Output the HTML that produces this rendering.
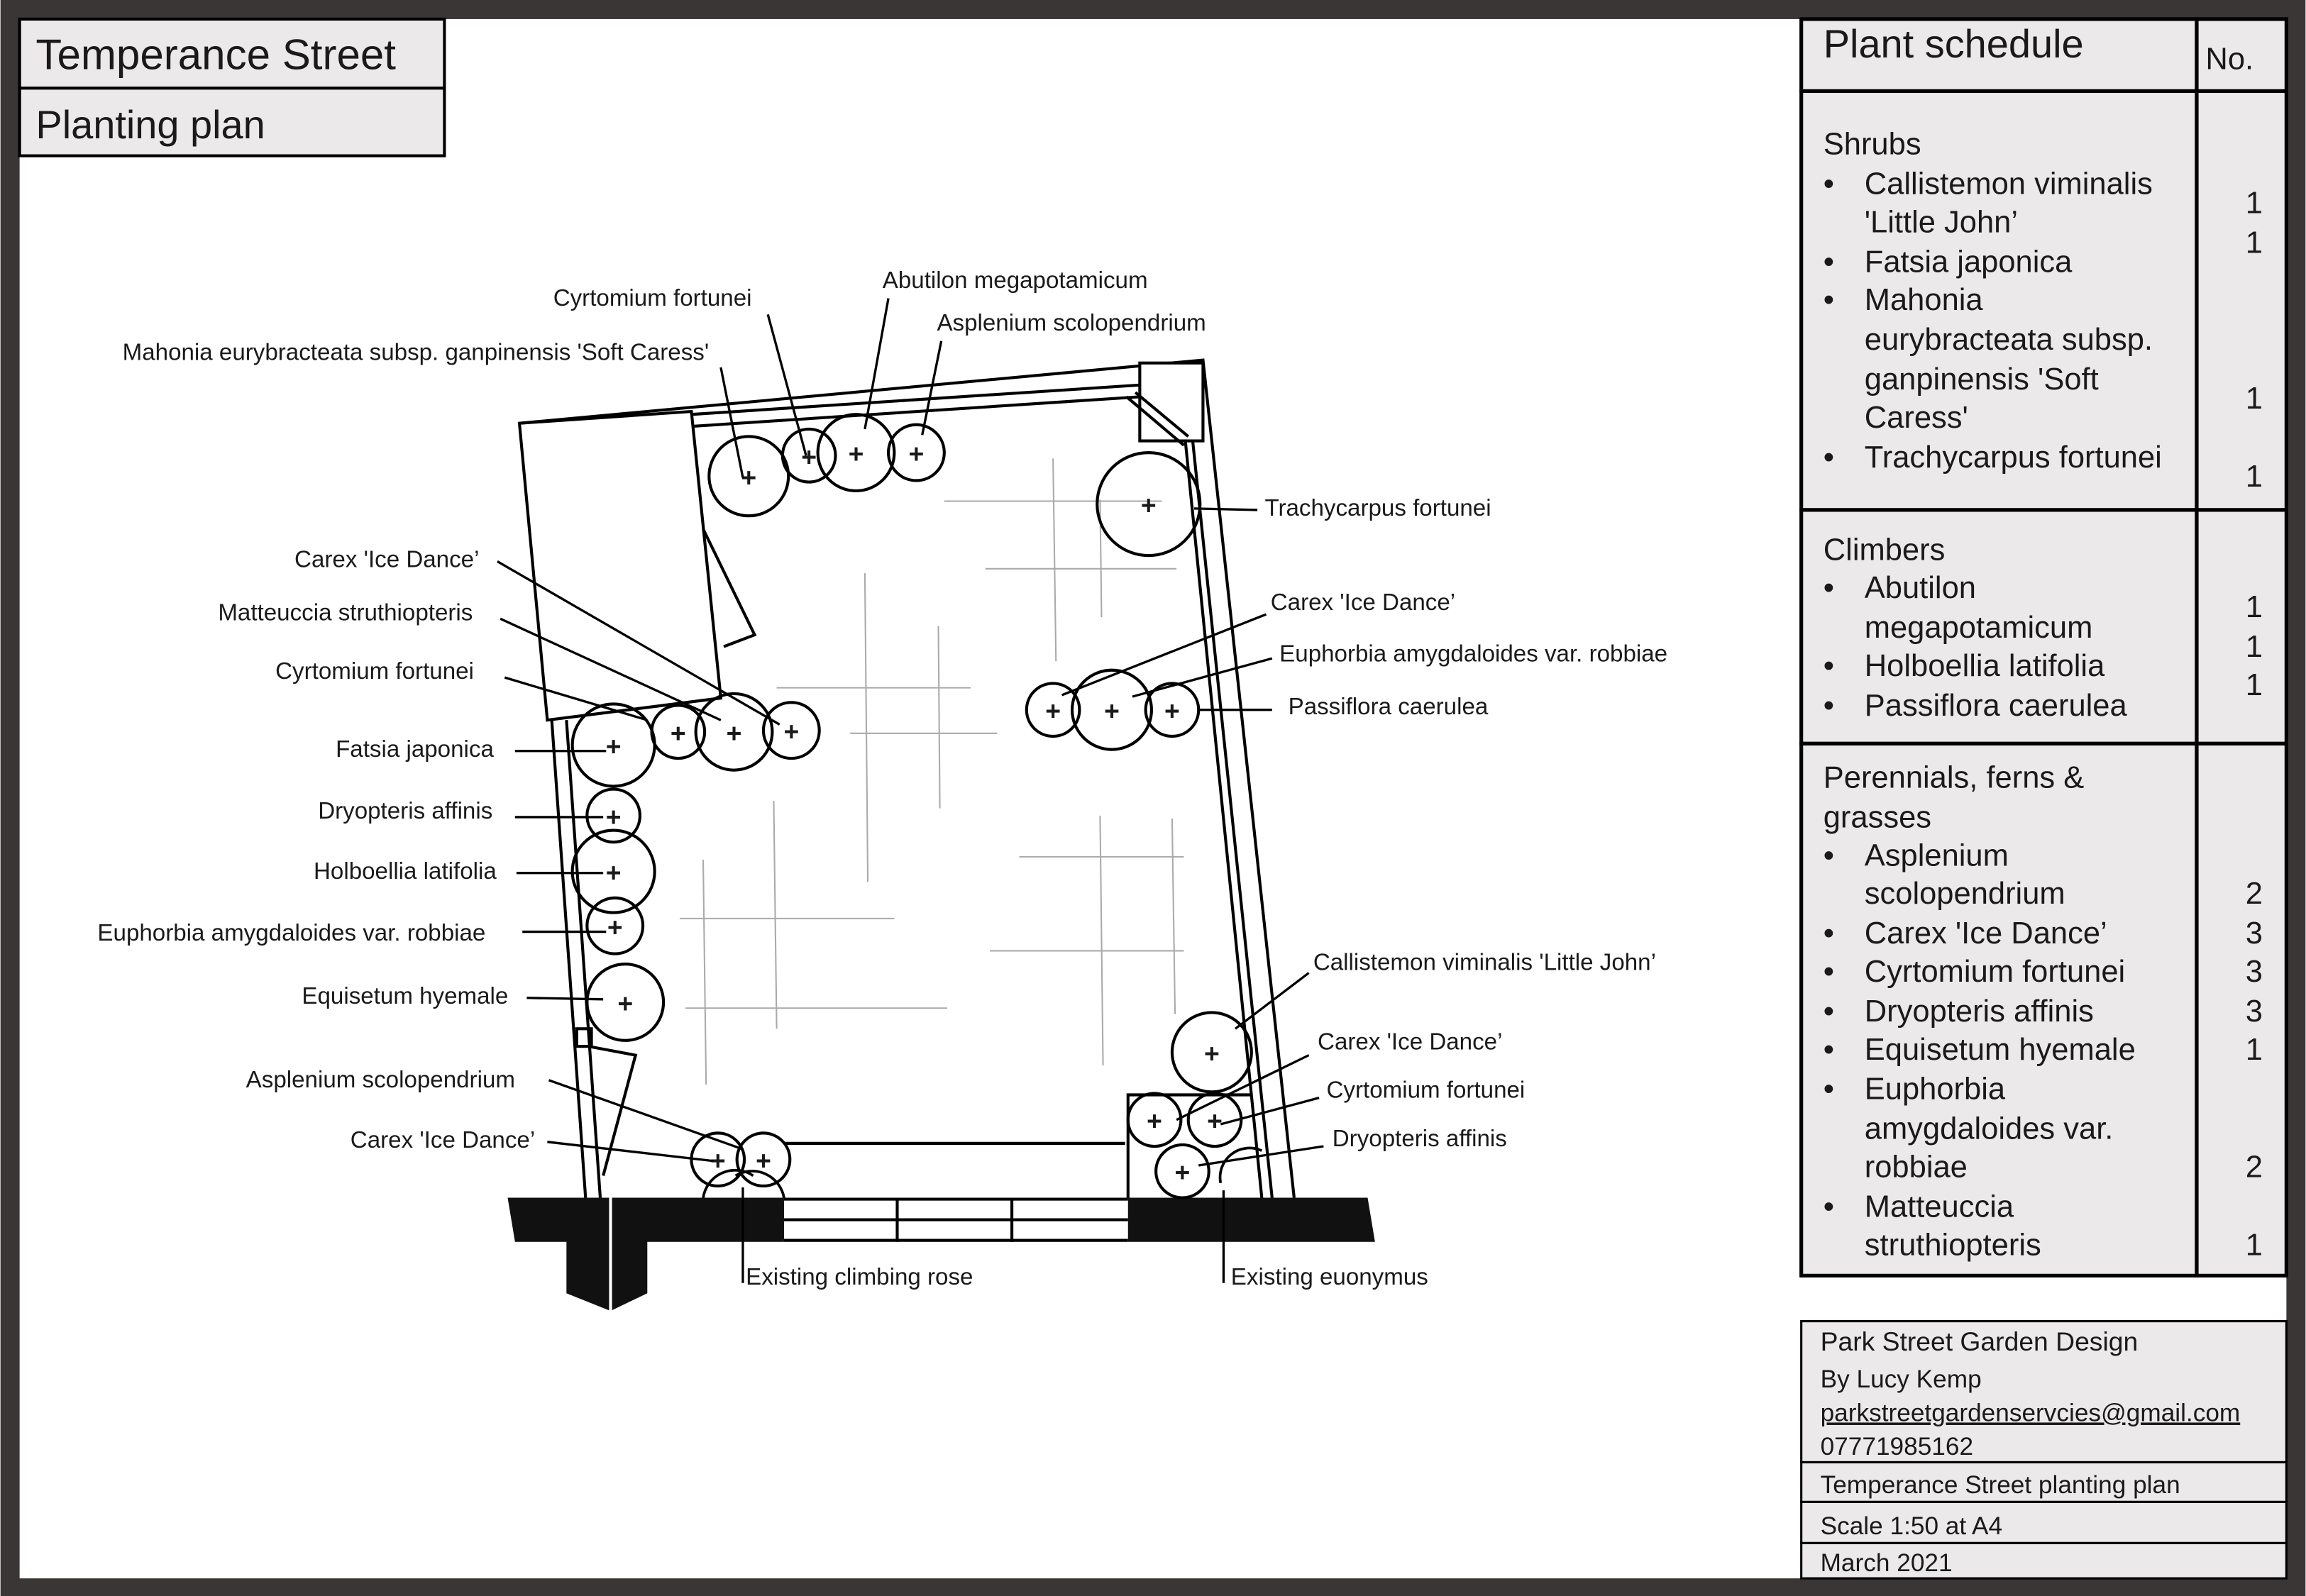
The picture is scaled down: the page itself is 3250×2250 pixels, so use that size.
<!DOCTYPE html>
<html><head><meta charset="utf-8"><style>
html,body{margin:0;padding:0;background:#fff}
svg{display:block}
text{font-family:"Liberation Sans",sans-serif;fill:#1a1a1a}
</style></head><body>
<svg width="3250" height="2250" viewBox="0 0 1568 1086" xmlns="http://www.w3.org/2000/svg">
<rect x="0" y="0" width="1568" height="1086" fill="#3a3636"/>
<rect x="13" y="13" width="1542" height="1061" fill="#fff"/>
<!-- title -->
<rect x="13" y="13" width="289" height="47" fill="#ece9ea" stroke="#000" stroke-width="2"/>
<rect x="13" y="60" width="289" height="46" fill="#ece9ea" stroke="#000" stroke-width="2"/>
<text x="24" y="47" font-size="29">Temperance Street</text>
<text x="24" y="94" font-size="27">Planting plan</text>
<!-- schedule -->
<g stroke="#000" stroke-width="2.5" fill="#ece9ea">
<rect x="1225" y="13" width="269" height="49"/><rect x="1494" y="13" width="61" height="49"/>
<rect x="1225" y="62" width="269" height="285"/><rect x="1494" y="62" width="61" height="285"/>
<rect x="1225" y="347" width="269" height="159"/><rect x="1494" y="347" width="61" height="159"/>
<rect x="1225" y="506" width="269" height="362"/><rect x="1494" y="506" width="61" height="362"/>
<rect x="1225" y="899" width="330" height="96" stroke-width="1.5"/>
<rect x="1225" y="995" width="330" height="27" stroke-width="1.5"/>
<rect x="1225" y="1022" width="330" height="28" stroke-width="1.5"/>
<rect x="1225" y="1050" width="330" height="24" stroke-width="1.5"/>
</g>
<text x="1240" y="39" font-size="27">Plant schedule</text>
<text x="1500" y="47" font-size="21">No.</text>
<g font-size="21">
<text x="1240" y="105">Shrubs</text>
<text x="1240" y="132">•</text><text x="1268" y="132">Callistemon viminalis</text>
<text x="1268" y="158">'Little John’</text>
<text x="1240" y="185">•</text><text x="1268" y="185">Fatsia japonica</text>
<text x="1240" y="211">•</text><text x="1268" y="211">Mahonia</text>
<text x="1268" y="238">eurybracteata subsp.</text>
<text x="1268" y="265">ganpinensis 'Soft</text>
<text x="1268" y="291">Caress'</text>
<text x="1240" y="318">•</text><text x="1268" y="318">Trachycarpus fortunei</text>
<text x="1240" y="381">Climbers</text>
<text x="1240" y="407">•</text><text x="1268" y="407">Abutilon</text>
<text x="1268" y="434">megapotamicum</text>
<text x="1240" y="460">•</text><text x="1268" y="460">Holboellia latifolia</text>
<text x="1240" y="487">•</text><text x="1268" y="487">Passiflora caerulea</text>
<text x="1240" y="536">Perennials, ferns &amp;</text>
<text x="1240" y="563">grasses</text>
<text x="1240" y="589">•</text><text x="1268" y="589">Asplenium</text>
<text x="1268" y="615">scolopendrium</text>
<text x="1240" y="642">•</text><text x="1268" y="642">Carex 'Ice Dance’</text>
<text x="1240" y="668">•</text><text x="1268" y="668">Cyrtomium fortunei</text>
<text x="1240" y="695">•</text><text x="1268" y="695">Dryopteris affinis</text>
<text x="1240" y="721">•</text><text x="1268" y="721">Equisetum hyemale</text>
<text x="1240" y="748">•</text><text x="1268" y="748">Euphorbia</text>
<text x="1268" y="775">amygdaloides var.</text>
<text x="1268" y="801">robbiae</text>
<text x="1240" y="828">•</text><text x="1268" y="828">Matteuccia</text>
<text x="1268" y="854">struthiopteris</text>
</g>
<g font-size="21" text-anchor="middle">
<text x="1533" y="145">1</text><text x="1533" y="172">1</text><text x="1533" y="278">1</text><text x="1533" y="331">1</text>
<text x="1533" y="420">1</text><text x="1533" y="447">1</text><text x="1533" y="473">1</text>
<text x="1533" y="615">2</text><text x="1533" y="642">3</text><text x="1533" y="668">3</text><text x="1533" y="695">3</text><text x="1533" y="721">1</text><text x="1533" y="801">2</text><text x="1533" y="854">1</text>
</g>
<g font-size="18">
<text x="1238" y="919">Park Street Garden Design</text>
<text x="1238" y="944" font-size="17">By Lucy Kemp</text>
<text x="1238" y="967" font-size="17" text-decoration="underline">parkstreetgardenservcies@gmail.com</text>
<text x="1238" y="990" font-size="17">07771985162</text>
<text x="1238" y="1016" font-size="17">Temperance Street planting plan</text>
<text x="1238" y="1044" font-size="17">Scale 1:50 at A4</text>
<text x="1238" y="1069" font-size="17">March 2021</text>
</g>
<!-- plan -->
<g stroke="#aaa" stroke-width="1" fill="none">
<line x1="642" y1="341" x2="790" y2="341"/><line x1="670" y1="387" x2="800" y2="387"/>
<line x1="716" y1="312" x2="718" y2="450"/><line x1="748" y1="340" x2="749" y2="420"/>
<line x1="528" y1="468" x2="660" y2="468"/><line x1="578" y1="499" x2="678" y2="499"/>
<line x1="588" y1="390" x2="590" y2="600"/><line x1="638" y1="426" x2="639" y2="550"/>
<line x1="462" y1="625" x2="608" y2="625"/><line x1="466" y1="686" x2="644" y2="686"/>
<line x1="478" y1="585" x2="480" y2="738"/><line x1="526" y1="545" x2="528" y2="700"/>
<line x1="693" y1="583" x2="805" y2="583"/><line x1="673" y1="647" x2="805" y2="647"/>
<line x1="748" y1="555" x2="750" y2="725"/><line x1="797" y1="557" x2="799" y2="690"/>
</g>
<g stroke="#000" stroke-width="2" fill="none">
<polyline points="353,288 818,245 880,815"/>
<polygon points="353,288 470,280 490,475 372,490"/>
<polyline points="470,282 775,262"/><polyline points="472,290 775,270"/>
<rect x="775" y="247" width="43" height="53" fill="#fff"/>
<line x1="766" y1="270" x2="805" y2="303"/><line x1="772" y1="267" x2="808" y2="297"/>
<line x1="806" y1="300" x2="858" y2="815"/><line x1="811" y1="300" x2="865" y2="815"/>
<polyline points="478,360 513,432 492,440"/>
<line x1="375" y1="490" x2="398" y2="815"/><line x1="385" y1="490" x2="408" y2="815"/>
<rect x="392" y="700" width="10" height="12"/>
<polyline points="400,712 432,718 410,800"/>
<line x1="533" y1="778" x2="765" y2="778"/>
<polyline points="767,815 767,745 850,745"/>
<line x1="533" y1="816" x2="767" y2="816"/>
<line x1="533" y1="830" x2="767" y2="830"/>
<line x1="533" y1="844" x2="767" y2="844"/>
<line x1="610" y1="815" x2="610" y2="845"/><line x1="688" y1="815" x2="688" y2="845"/>
</g>
<polygon points="345,815 533,815 533,845 440,845 440,880 415,892 385,880 385,845 350,845" fill="#111"/>
<polygon points="767,815 930,815 935,845 767,845" fill="#111"/>
<line x1="415" y1="815" x2="415" y2="892" stroke="#fff" stroke-width="2"/>
<g stroke="#000" stroke-width="1.8" fill="none">
<path d="M478,815 A22,22 0 0 1 512,800"/><path d="M500,800 A22,22 0 0 1 533,815"/>
<path d="M830,805 A20,20 0 0 1 858,783"/>
</g>
<!-- plants -->
<g stroke="#000" stroke-width="2" fill="none">
<circle cx="509" cy="324" r="27"/><circle cx="550" cy="310" r="18"/><circle cx="582" cy="308" r="26"/><circle cx="623" cy="308" r="19"/>
<circle cx="781" cy="343" r="35"/>
<circle cx="417" cy="507" r="28"/><circle cx="461" cy="498" r="18"/><circle cx="499" cy="498" r="26"/><circle cx="538" cy="497" r="19"/>
<circle cx="716" cy="483" r="18"/><circle cx="756" cy="483" r="27"/><circle cx="797" cy="483" r="18"/>
<circle cx="417" cy="555" r="18"/><circle cx="417" cy="593" r="28"/><circle cx="418" cy="630" r="19"/><circle cx="425" cy="682" r="26"/>
<circle cx="488" cy="789" r="18"/><circle cx="519" cy="789" r="18"/>
<circle cx="824" cy="716" r="27"/><circle cx="785" cy="762" r="18"/><circle cx="826" cy="762" r="18"/><circle cx="804" cy="797" r="18"/>
</g>
<g font-size="18" font-weight="bold" text-anchor="middle">
<text x="509" y="331">+</text><text x="550" y="317">+</text><text x="582" y="315">+</text><text x="623" y="315">+</text>
<text x="781" y="350">+</text>
<text x="417" y="514">+</text><text x="461" y="505">+</text><text x="499" y="505">+</text><text x="538" y="504">+</text>
<text x="716" y="490">+</text><text x="756" y="490">+</text><text x="797" y="490">+</text>
<text x="417" y="562">+</text><text x="417" y="600">+</text><text x="418" y="637">+</text><text x="425" y="689">+</text>
<text x="488" y="796">+</text><text x="519" y="796">+</text>
<text x="824" y="723">+</text><text x="785" y="769">+</text><text x="826" y="769">+</text><text x="804" y="804">+</text>
</g>
<!-- leaders -->
<g stroke="#000" stroke-width="1.6">
<line x1="522" y1="214" x2="548" y2="310"/><line x1="604" y1="203" x2="588" y2="292"/>
<line x1="640" y1="232" x2="627" y2="296"/><line x1="490" y1="250" x2="505" y2="325"/>
<line x1="812" y1="346" x2="855" y2="347"/>
<line x1="338" y1="382" x2="530" y2="493"/><line x1="340" y1="421" x2="490" y2="490"/>
<line x1="343" y1="461" x2="440" y2="490"/><line x1="350" y1="511" x2="412" y2="511"/>
<line x1="350" y1="556" x2="410" y2="556"/><line x1="351" y1="594" x2="410" y2="594"/>
<line x1="355" y1="634" x2="412" y2="634"/><line x1="358" y1="679" x2="410" y2="680"/>
<line x1="373" y1="735" x2="505" y2="782"/><line x1="372" y1="777" x2="485" y2="790"/>
<line x1="861" y1="418" x2="722" y2="473"/><line x1="865" y1="448" x2="770" y2="474"/>
<line x1="815" y1="483" x2="865" y2="483"/>
<line x1="890" y1="662" x2="840" y2="700"/><line x1="890" y1="718" x2="800" y2="762"/>
<line x1="897" y1="747" x2="830" y2="765"/><line x1="900" y1="780" x2="815" y2="793"/>
<line x1="505" y1="808" x2="505" y2="873"/><line x1="832" y1="810" x2="832" y2="873"/>
</g>
<g font-size="16">
<text x="376" y="208">Cyrtomium fortunei</text>
<text x="600" y="196">Abutilon megapotamicum</text>
<text x="637" y="225">Asplenium scolopendrium</text>
<text x="83" y="245">Mahonia eurybracteata subsp. ganpinensis 'Soft Caress'</text>
<text x="860" y="351">Trachycarpus fortunei</text>
<text x="200" y="386">Carex 'Ice Dance’</text>
<text x="148" y="422">Matteuccia struthiopteris</text>
<text x="187" y="462">Cyrtomium fortunei</text>
<text x="228" y="515">Fatsia japonica</text>
<text x="216" y="557">Dryopteris affinis</text>
<text x="213" y="598">Holboellia latifolia</text>
<text x="66" y="640">Euphorbia amygdaloides var. robbiae</text>
<text x="205" y="683">Equisetum hyemale</text>
<text x="167" y="740">Asplenium scolopendrium</text>
<text x="238" y="781">Carex 'Ice Dance’</text>
<text x="864" y="415">Carex 'Ice Dance’</text>
<text x="870" y="450">Euphorbia amygdaloides var. robbiae</text>
<text x="876" y="486">Passiflora caerulea</text>
<text x="893" y="660">Callistemon viminalis 'Little John’</text>
<text x="896" y="714">Carex 'Ice Dance’</text>
<text x="902" y="747">Cyrtomium fortunei</text>
<text x="906" y="780">Dryopteris affinis</text>
<text x="507" y="874">Existing climbing rose</text>
<text x="837" y="874">Existing euonymus</text>
</g>
</svg>
</body></html>
